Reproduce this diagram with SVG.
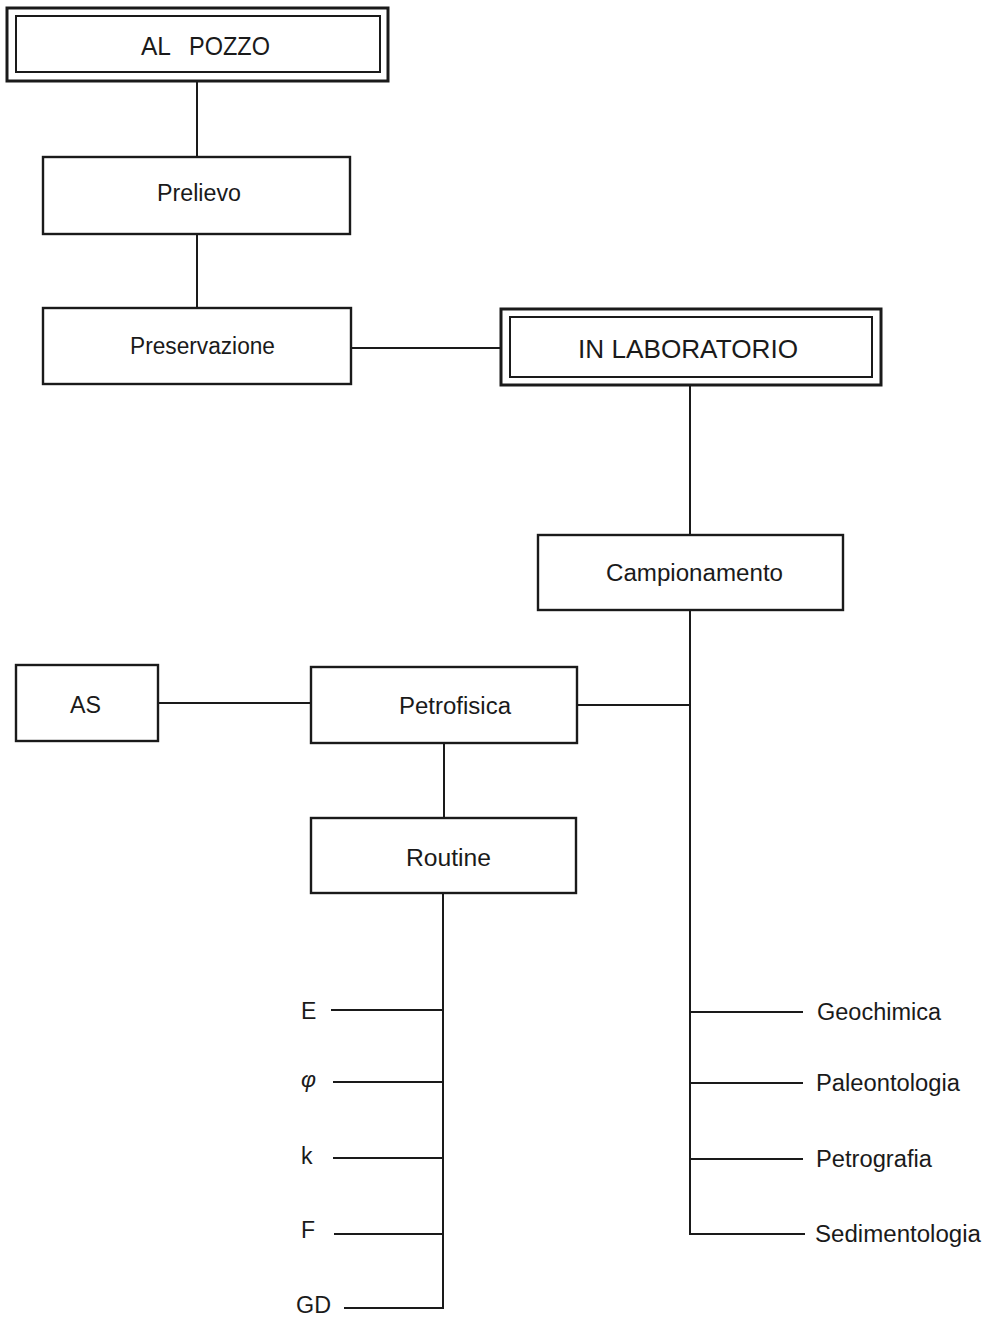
<svg xmlns="http://www.w3.org/2000/svg" width="994" height="1317" viewBox="0 0 994 1317">
<style>
.box{fill:#fff;stroke:#1a1a1a;stroke-width:2.4}
.outer{fill:#fff;stroke:#1a1a1a;stroke-width:3}
.inner{fill:none;stroke:#1a1a1a;stroke-width:2}
.ln{fill:none;stroke:#1a1a1a;stroke-width:2}
text{font-family:"Liberation Sans",Arial,sans-serif;font-size:23px;fill:#1a1a1a}
.cap{font-size:26px}
</style>
<rect width="994" height="1317" fill="#fff"/>
<g id="connectors">
<path class="ln" d="M197,81V157M197,234V308M351,348H501M690,385V535M690,610V1234H805M577,705H690M158,703H311M444,743V818M443,893V1308H344"/>
<path class="ln" d="M331,1010H443M333,1082H443M333,1158H443M334,1234H443M690,1012H803M690,1083H803M690,1159H803"/>
</g>
<g id="al-pozzo">
<rect class="outer" x="7" y="8" width="381" height="73"/>
<rect class="inner" x="16" y="16" width="364" height="56"/>
<text class="cap" y="55"><tspan x="141" textLength="30" lengthAdjust="spacingAndGlyphs">AL</tspan><tspan x="189" textLength="81" lengthAdjust="spacingAndGlyphs">POZZO</tspan></text>
</g>
<g id="prelievo">
<rect class="box" x="43" y="157" width="307" height="77"/>
<text x="157" y="201" textLength="84" lengthAdjust="spacingAndGlyphs">Prelievo</text>
</g>
<g id="preservazione">
<rect class="box" x="43" y="308" width="308" height="76"/>
<text x="130" y="354" textLength="145" lengthAdjust="spacingAndGlyphs">Preservazione</text>
</g>
<g id="in-laboratorio">
<rect class="outer" x="501" y="309" width="380" height="76"/>
<rect class="inner" x="510" y="317" width="362" height="60"/>
<text class="cap" x="578" y="358" textLength="220" lengthAdjust="spacingAndGlyphs">IN LABORATORIO</text>
</g>
<g id="campionamento">
<rect class="box" x="538" y="535" width="305" height="75"/>
<text x="606" y="581" textLength="177" lengthAdjust="spacingAndGlyphs">Campionamento</text>
</g>
<g id="as">
<rect class="box" x="16" y="665" width="142" height="76"/>
<text x="70" y="713" textLength="31" lengthAdjust="spacingAndGlyphs">AS</text>
</g>
<g id="petrofisica">
<rect class="box" x="311" y="667" width="266" height="76"/>
<text x="399" y="714" textLength="112" lengthAdjust="spacingAndGlyphs">Petrofisica</text>
</g>
<g id="routine">
<rect class="box" x="311" y="818" width="265" height="75"/>
<text x="406" y="866" textLength="85" lengthAdjust="spacingAndGlyphs">Routine</text>
</g>
<g id="leaf-E"><text x="301" y="1019">E</text></g>
<g id="leaf-phi"><text x="301" y="1087" font-style="italic">φ</text></g>
<g id="leaf-k"><text x="301" y="1164">k</text></g>
<g id="leaf-F"><text x="301" y="1238">F</text></g>
<g id="leaf-GD"><text x="296" y="1313" textLength="35" lengthAdjust="spacingAndGlyphs">GD</text></g>
<g id="leaf-geochimica"><text x="817" y="1020" textLength="124" lengthAdjust="spacingAndGlyphs">Geochimica</text></g>
<g id="leaf-paleontologia"><text x="816" y="1091" textLength="144" lengthAdjust="spacingAndGlyphs">Paleontologia</text></g>
<g id="leaf-petrografia"><text x="816" y="1167" textLength="116" lengthAdjust="spacingAndGlyphs">Petrografia</text></g>
<g id="leaf-sedimentologia"><text x="815" y="1242" textLength="166" lengthAdjust="spacingAndGlyphs">Sedimentologia</text></g>
</svg>
